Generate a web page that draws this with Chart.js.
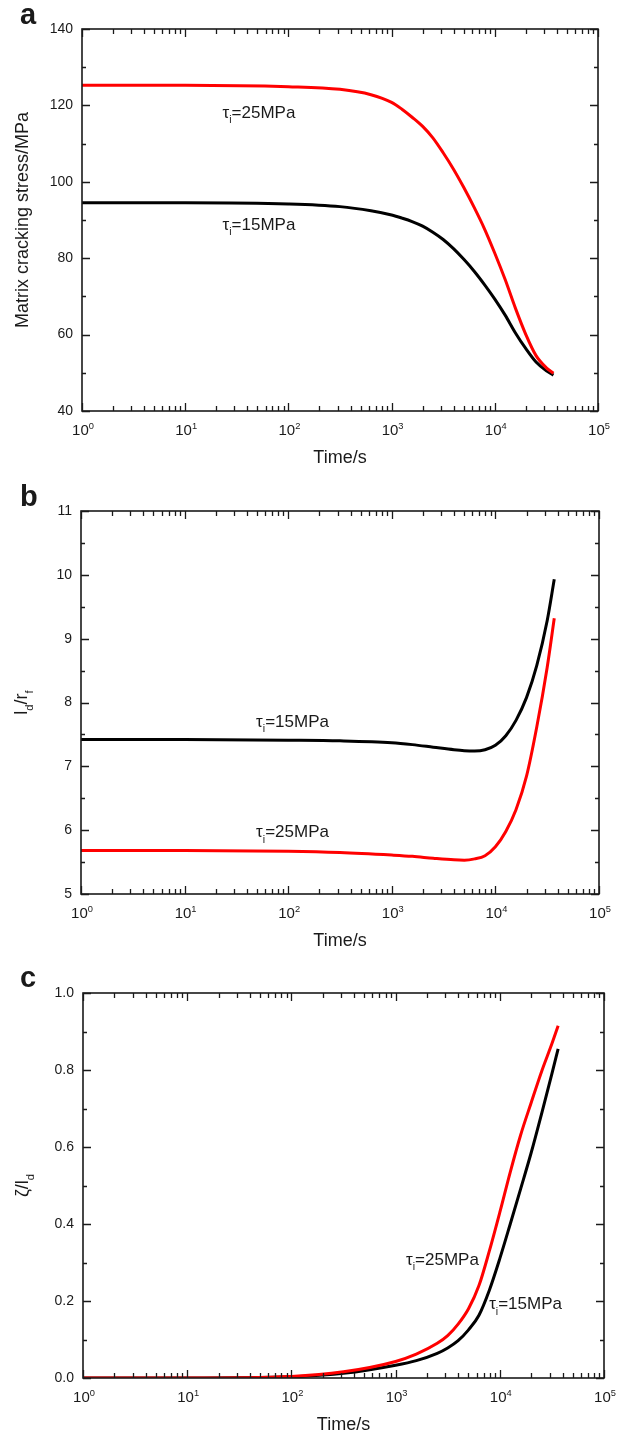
<!DOCTYPE html>
<html lang="en">
<head>
<meta charset="UTF-8">
<title>Matrix cracking, debonding and slip vs time</title>
<style>
  body { margin: 0; background: #fff; }
  .wrap { position: relative; width: 622px; height: 1436px; }
  canvas { position: absolute; left: 0; }
</style>
</head>
<body>
<div class="wrap">
  <canvas id="chartA" width="622" height="470" style="top:0px"></canvas>
  <canvas id="chartB" width="622" height="480" style="top:470px"></canvas>
  <canvas id="chartC" width="622" height="486" style="top:950px"></canvas>
</div>

<script src="https://cdn.jsdelivr.net/npm/chart.js"></script>
<script>
// (a) matrix cracking stress / MPa
const timeA = [1, 10, 100, 316, 631, 1000, 1260, 1580, 2000, 2510, 3160, 3980, 5010, 6310, 7940, 10000, 12600, 15800, 20000, 25100, 31600, 37000];
const stressTau25 = [125.3, 125.3, 124.9, 124.2, 122.8, 120.8, 119.0, 116.9, 114.5, 111.5, 107.6, 103.3, 98.5, 93.3, 87.7, 81.3, 74.4, 67.0, 60.0, 54.5, 51.3, 49.9];
const stressTau15 = [94.5, 94.5, 94.2, 93.5, 92.4, 91.3, 90.5, 89.6, 88.4, 86.8, 84.9, 82.5, 79.7, 76.6, 73.1, 69.3, 65.1, 60.5, 56.3, 52.8, 50.5, 49.4];

// (b) debonding length ld/rf
const timeB = [1, 10, 100, 316, 1000, 1580, 2510, 3980, 5010, 6310, 7940, 10000, 12600, 15800, 20000, 25100, 31600, 37000];
const debondTau15 = [7.42, 7.42, 7.41, 7.40, 7.37, 7.34, 7.30, 7.26, 7.245, 7.24, 7.26, 7.33, 7.48, 7.72, 8.08, 8.58, 9.28, 9.93];
const debondTau25 = [5.68, 5.68, 5.67, 5.65, 5.61, 5.59, 5.56, 5.535, 5.53, 5.55, 5.60, 5.74, 5.98, 6.32, 6.85, 7.62, 8.55, 9.32];

// (c) slip length ratio zeta/ld
const timeC = [1, 10, 100, 316, 1000, 1580, 2510, 3160, 3980, 5010, 6310, 7940, 10000, 12600, 15800, 20000, 25100, 31600, 36300];
const slipTau25 = [0, 0, 0.004, 0.016, 0.043, 0.062, 0.090, 0.110, 0.140, 0.180, 0.240, 0.330, 0.430, 0.535, 0.630, 0.715, 0.795, 0.868, 0.915];
const slipTau15 = [0, 0, 0.003, 0.012, 0.033, 0.045, 0.064, 0.078, 0.097, 0.125, 0.163, 0.228, 0.310, 0.400, 0.490, 0.585, 0.685, 0.790, 0.855];

// x axis: decades and the minor steps inside each decade
const decades = [1, 10, 100, 1000, 10000, 100000];
const decadeExp = ['0', '1', '2', '3', '4', '5'];
const minorSteps = [2, 3, 4, 5, 6, 7, 8, 9];

const FONT = '"Liberation Sans", Arial, Helvetica, sans-serif';
const ink = '#1a1a1a';

function toPoints(xs, ys) {
  return xs.map((x, i) => ({ x: x, y: ys[i] }));
}

// text with sub/superscripts: parts = [[text, mode]], mode '' | 'sub' | 'sup'
function partsWidth(ctx, parts, size) {
  let w = 0;
  for (const [t, mode] of parts) {
    ctx.font = (mode ? size * 0.62 : size) + 'px ' + FONT;
    w += ctx.measureText(t).width;
  }
  return w;
}
function drawParts(ctx, parts, x, y, size) {
  let cx = x;
  for (const [t, mode] of parts) {
    const s = mode ? size * 0.62 : size;
    ctx.font = s + 'px ' + FONT;
    const dy = mode === 'sub' ? size * 0.32 : mode === 'sup' ? -size * 0.42 : 0;
    ctx.fillText(t, cx, y + dy);
    cx += ctx.measureText(t).width;
  }
}

const isDecade = v => Math.abs(Math.log10(v) - Math.round(Math.log10(v))) < 1e-9;

const framePlugin = {
  id: 'frame',
  afterDraw(chart, args, opts) {
    const { ctx, chartArea: a } = chart;
    const x = chart.scales.x, y = chart.scales.y;
    ctx.save();
    ctx.strokeStyle = ink;
    ctx.lineWidth = 1.6;
    ctx.strokeRect(a.left, a.top, a.right - a.left, a.bottom - a.top);

    ctx.lineWidth = 1.3;
    ctx.beginPath();
    x.ticks.forEach(t => {
      const px = Math.round(x.getPixelForValue(t.value)) + 0.5;
      const len = isDecade(t.value) ? 8 : 5;
      ctx.moveTo(px, a.bottom); ctx.lineTo(px, a.bottom - len);
      ctx.moveTo(px, a.top); ctx.lineTo(px, a.top + len);
    });
    y.ticks.forEach((t, i) => {
      const py = Math.round(y.getPixelForValue(t.value)) + 0.5;
      const len = i % 2 === 0 ? 8 : 4;
      ctx.moveTo(a.left, py); ctx.lineTo(a.left + len, py);
      ctx.moveTo(a.right, py); ctx.lineTo(a.right - len, py);
    });
    ctx.stroke();

    ctx.fillStyle = ink;
    ctx.textBaseline = 'alphabetic';
    ctx.textAlign = 'left';

    // decade labels 10^n
    decades.forEach((d, k) => {
      const parts = [['10', ''], [decadeExp[k], 'sup']];
      const w = partsWidth(ctx, parts, 15);
      drawParts(ctx, parts, x.getPixelForValue(d) - w / 2 + 1, a.bottom + 24, 15);
    });

    // y axis title, rotated
    ctx.save();
    ctx.translate(opts.yTitleX, (a.top + a.bottom) / 2);
    ctx.rotate(-Math.PI / 2);
    const tw = partsWidth(ctx, opts.yTitle, 18);
    drawParts(ctx, opts.yTitle, -tw / 2, 0, 18);
    ctx.restore();

    // curve labels, placed in data coordinates
    opts.notes.forEach(n => {
      drawParts(ctx, n.parts, x.getPixelForValue(n.x), y.getPixelForValue(n.y), 17);
    });

    // panel letter
    ctx.font = 'bold 29px ' + FONT;
    ctx.fillText(opts.letter, 20, opts.letterY);
    ctx.restore();
  }
};

function tauLabel(v) {
  return [['τ', ''], ['i', 'sub'], ['=' + v + 'MPa', '']];
}

function makeChart(id, cfg) {
  const xTicks = [];
  decades.forEach((d, k) => {
    xTicks.push({ value: d });
    if (k < decades.length - 1) minorSteps.forEach(m => xTicks.push({ value: d * m }));
  });

  return new Chart(document.getElementById(id), {
    type: 'line',
    data: {
      datasets: cfg.series.map(s => ({
        data: toPoints(s.x, s.y),
        borderColor: s.color,
        borderWidth: 3,
        pointRadius: 0,
        fill: false,
        cubicInterpolationMode: 'monotone'
      }))
    },
    options: {
      responsive: false,
      animation: false,
      layout: { padding: { top: cfg.top, right: cfg.right, left: 0, bottom: 0 } },
      plugins: {
        legend: { display: false },
        tooltip: { enabled: false },
        frame: cfg.frame
      },
      scales: {
        x: {
          type: 'logarithmic',
          min: 1,
          max: 100000,
          afterBuildTicks: s => { s.ticks = xTicks.slice(); },
          afterFit: s => { s.height = cfg.xHeight; },
          ticks: { display: false },
          grid: { display: false },
          border: { display: false },
          title: {
            display: true,
            text: 'Time/s',
            color: ink,
            font: { family: FONT, size: 18, lineHeight: 1 },
            padding: { top: 0, bottom: cfg.titlePad }
          }
        },
        y: {
          min: cfg.yMin,
          max: cfg.yMax,
          afterFit: s => { s.width = cfg.left; },
          ticks: {
            stepSize: cfg.yStep,
            autoSkip: false,
            padding: 9,
            color: ink,
            font: { family: FONT, size: 14 },
            callback: (v, i) => (i % 2 === 0 ? cfg.yFmt(v) : '')
          },
          grid: { display: false, drawTicks: false },
          border: { display: false }
        }
      }
    },
    plugins: [framePlugin]
  });
}

makeChart('chartA', {
  top: 29, right: 24, left: 82, xHeight: 59, titlePad: 3,
  yMin: 40, yMax: 140, yStep: 10, yFmt: v => String(Math.round(v)),
  series: [
    { x: timeA, y: stressTau25, color: '#ff0000' },
    { x: timeA, y: stressTau15, color: '#000000' }
  ],
  frame: {
    letter: 'a', letterY: 24, yTitleX: 28,
    yTitle: [['Matrix cracking stress/MPa', '']],
    notes: [
      { parts: tauLabel(25), x: 23, y: 116.7 },
      { parts: tauLabel(15), x: 23, y: 87.4 }
    ]
  }
});

makeChart('chartB', {
  top: 41, right: 23, left: 81, xHeight: 56, titlePad: 0,
  yMin: 5, yMax: 11, yStep: 0.5, yFmt: v => String(Math.round(v)),
  series: [
    { x: timeB, y: debondTau15, color: '#000000' },
    { x: timeB, y: debondTau25, color: '#ff0000' }
  ],
  frame: {
    letter: 'b', letterY: 36, yTitleX: 27,
    yTitle: [['l', ''], ['d', 'sub'], ['/r', ''], ['f', 'sub']],
    notes: [
      { parts: tauLabel(15), x: 49, y: 7.62 },
      { parts: tauLabel(25), x: 49, y: 5.89 }
    ]
  }
});

makeChart('chartC', {
  top: 43, right: 18, left: 83, xHeight: 58, titlePad: 2,
  yMin: 0, yMax: 1, yStep: 0.1, yFmt: v => v.toFixed(1),
  series: [
    { x: timeC, y: slipTau25, color: '#ff0000' },
    { x: timeC, y: slipTau15, color: '#000000' }
  ],
  frame: {
    letter: 'c', letterY: 37, yTitleX: 28,
    yTitle: [['ζ/l', ''], ['d', 'sub']],
    notes: [
      { parts: tauLabel(25), x: 1260, y: 0.294 },
      { parts: tauLabel(15), x: 7900, y: 0.179 }
    ]
  }
});
</script>
</body>
</html>
